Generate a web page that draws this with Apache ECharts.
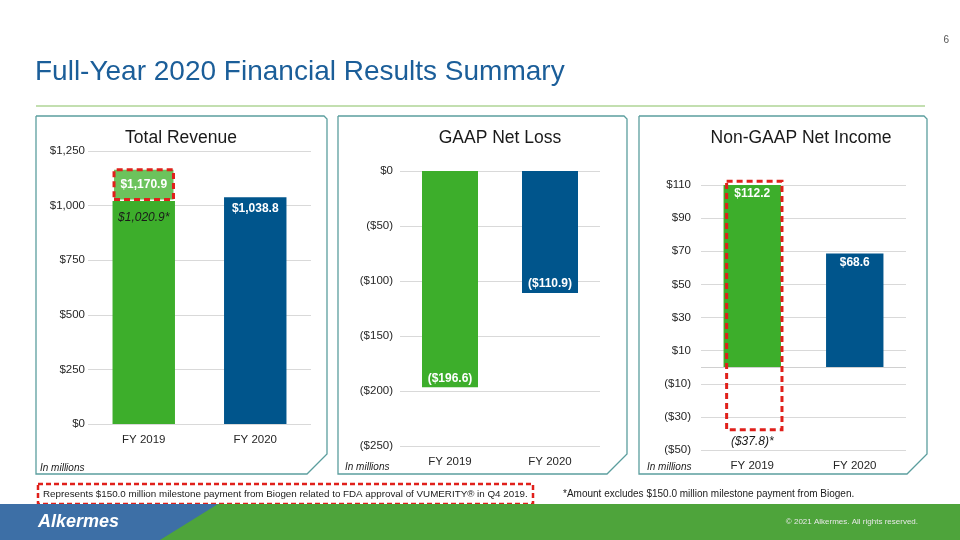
<!DOCTYPE html>
<html>
<head>
<meta charset="utf-8">
<script src="https://cdn.jsdelivr.net/npm/echarts@6/dist/echarts.min.js"></script>
<style>
html,body{margin:0;padding:0;background:#fff;}
#chart{width:960px;height:540px;}
</style>
</head>
<body>
<div id="chart"></div>
<script>
// ---- data ----
const categories = ['FY 2019', 'FY 2020'];
const revenueBase = [1020.9, 1038.8];        // FY2019 excl. milestone, FY2020 reported
const revenueMilestone = [150.0, null];      // Biogen milestone (FY2019)
const revenueReported = [1170.9, 1038.8];
const gaapNetLoss = [-196.6, -110.9];
const nonGaapNetIncome = [112.2, 68.6];
const nonGaapExMilestone = [-37.8, null];

const GREEN = '#3dae2b', LIGHT = '#6cc35c', BLUE = '#00558c', RED = '#e0201b';
const FONT = '"Liberation Sans", Arial, sans-serif';

function money(v) {
  const a = Math.abs(v);
  const s = a.toFixed(a % 1 === 0 ? 0 : 1).replace(/\B(?=(\d{3})+(?!\d))/g, ',');
  return v < 0 ? '($' + s + ')' : '$' + s;
}

const chart = echarts.init(document.getElementById('chart'), null, {renderer: 'canvas'});

const axisLabelY = (m) => ({fontFamily: FONT, fontSize: 11.5, color: '#262626', margin: m, formatter: money});
const splitLine = {show: true, lineStyle: {color: '#d9d9d9', width: 1}};
const valLabel = {show: true, color: '#fff', fontWeight: 'bold', fontFamily: FONT, fontSize: 12};

function panel(x0, x1) {
  const y0 = 116, y1 = 474, c = 20;
  return {
    type: 'polyline', silent: true,
    shape: {points: [[x0, y0], [x1 - 3, y0], [x1, y0 + 3], [x1, y1 - c], [x1 - c, y1], [x0, y1], [x0, y0]]},
    style: {stroke: '#5b9e9e', lineWidth: 1.3, fill: null}
  };
}
function txt(x, y, text, opt) {
  return Object.assign({type: 'text', x: x, y: y, silent: true,
    style: Object.assign({text: text, fontFamily: FONT, fill: '#1a1a1a', fontSize: 12, verticalAlign: 'middle'}, opt || {})});
}

const option = {
  animation: false,
  backgroundColor: '#fff',
  grid: [
    {left: 88, top: 151, width: 223, height: 273},
    {left: 400, top: 171, width: 200, height: 275},
    {left: 701, top: 185, width: 205, height: 265}
  ],
  xAxis: [0, 1, 2].map(i => ({
    type: 'category', gridIndex: i, data: categories,
    axisLine: {show: false}, axisTick: {show: false},
    axisLabel: {fontFamily: FONT, fontSize: 11.5, color: '#262626', margin: 10}
  })),
  yAxis: [
    {type: 'value', gridIndex: 0, min: 0, max: 1250, interval: 250, axisLabel: axisLabelY(3), splitLine: splitLine, axisLine: {show: false}, axisTick: {show: false}},
    {type: 'value', gridIndex: 1, min: -250, max: 0, interval: 50, axisLabel: axisLabelY(7), splitLine: splitLine, axisLine: {show: false}, axisTick: {show: false}},
    {type: 'value', gridIndex: 2, min: -50, max: 110, interval: 20, axisLabel: axisLabelY(10), splitLine: splitLine, axisLine: {show: false}, axisTick: {show: false}}
  ],
  series: [
    {
      type: 'bar', xAxisIndex: 0, yAxisIndex: 0, stack: 'rev', barWidth: '56%',
      data: revenueBase.map((v, i) => i === 0 ? {
        value: v, itemStyle: {color: GREEN},
        label: {show: true, position: 'insideTop', distance: 11, color: '#1a1a1a', fontStyle: 'italic', fontFamily: FONT, fontSize: 12, formatter: () => money(v) + '*'}
      } : {
        value: v, itemStyle: {color: BLUE},
        label: Object.assign({}, valLabel, {position: 'insideTop', distance: 6, formatter: () => money(revenueReported[i])})
      })
    },
    {
      type: 'bar', xAxisIndex: 0, yAxisIndex: 0, stack: 'rev', barWidth: '56%', z: 3,
      data: revenueMilestone.map((v, i) => v == null ? '-' : {
        value: v,
        itemStyle: {color: LIGHT, borderColor: RED, borderWidth: 3, borderType: [6, 4]},
        label: Object.assign({}, valLabel, {position: 'inside', formatter: () => money(revenueReported[i])})
      })
    },
    {
      type: 'bar', xAxisIndex: 1, yAxisIndex: 1, barWidth: '56%',
      data: gaapNetLoss.map((v, i) => ({value: v, itemStyle: {color: i === 0 ? GREEN : BLUE}})),
      label: Object.assign({}, valLabel, {position: 'insideBottom', distance: 3, formatter: p => money(p.value)})
    },
    {
      type: 'bar', xAxisIndex: 2, yAxisIndex: 2, barWidth: '56%',
      data: nonGaapNetIncome.map((v, i) => ({value: v, itemStyle: {color: i === 0 ? GREEN : BLUE}})),
      label: Object.assign({}, valLabel, {position: 'insideTop', distance: 3, formatter: p => money(p.value)}),
      markLine: {silent: true, symbol: 'none', label: {show: false}, lineStyle: {color: '#d0d0d0', type: 'solid', width: 1}, data: [{yAxis: 0}]}
    },
    {
      type: 'custom', xAxisIndex: 2, yAxisIndex: 2, z: 5,
      data: nonGaapExMilestone.map((v, i) => v == null ? null : [i, nonGaapNetIncome[i], v]).filter(d => d),
      renderItem: function (params, api) {
        const top = api.coord([api.value(0), api.value(1)]);
        const bot = api.coord([api.value(0), api.value(2)]);
        const bw = api.size([1, 0])[0];
        const x0 = top[0] - bw * 0.25, x1 = top[0] + bw * 0.29;
        return {
          type: 'group',
          children: [
            {type: 'rect', shape: {x: x0, y: top[1], width: x1 - x0, height: bot[1] - top[1]},
             style: {fill: null, stroke: RED, lineWidth: 3, lineDash: [6, 4]}},
            {type: 'text', x: top[0], y: bot[1] + 12,
             style: {text: money(api.value(2)) + '*', fontFamily: FONT, fontSize: 12, fontStyle: 'italic', fill: '#1a1a1a', align: 'center', verticalAlign: 'middle'}}
          ]
        };
      }
    }
  ],
  graphic: [
    txt(949, 40, '6', {fontSize: 10, fill: '#555', align: 'right'}),
    txt(35, 72, 'Full-Year 2020 Financial Results Summary', {fontSize: 28, fill: '#1b5e99'}),
    {type: 'line', silent: true, shape: {x1: 36, y1: 106, x2: 925, y2: 106}, style: {stroke: '#c3dfb0', lineWidth: 2}},
    panel(36, 327), panel(338, 627), panel(639, 927),
    txt(181, 138, 'Total Revenue', {fontSize: 17.5, align: 'center'}),
    txt(500, 138, 'GAAP Net Loss', {fontSize: 17.5, align: 'center'}),
    txt(801, 138, 'Non-GAAP Net Income', {fontSize: 17.5, align: 'center'}),
    txt(40, 468, 'In millions', {fontSize: 10, fontStyle: 'italic'}),
    txt(345, 467, 'In millions', {fontSize: 10, fontStyle: 'italic'}),
    txt(647, 467, 'In millions', {fontSize: 10, fontStyle: 'italic'}),
    {type: 'rect', silent: true, shape: {x: 38, y: 484, width: 495, height: 20}, style: {fill: null, stroke: RED, lineWidth: 2.5, lineDash: [5, 3]}},
    txt(43, 494, 'Represents $150.0 million milestone payment from Biogen related to FDA approval of VUMERITY® in Q4 2019.', {fontSize: 9.8}),
    txt(563, 494, '*Amount excludes $150.0 million milestone payment from Biogen.', {fontSize: 10}),
    {type: 'polygon', silent: true, shape: {points: [[0, 504], [960, 504], [960, 540], [0, 540]]}, style: {fill: '#4ea43b'}},
    {type: 'polygon', silent: true, shape: {points: [[0, 504], [218, 504], [160, 540], [0, 540]]}, style: {fill: '#3d6fa6'}},
    txt(38, 522, 'Alkermes', {fontSize: 18, fontStyle: 'italic', fontWeight: 'bold', fill: '#fff'}),
    txt(918, 522, '© 2021 Alkermes. All rights reserved.', {fontSize: 8, fill: '#e8e8e8', align: 'right'})
  ]
};
chart.setOption(option);
</script>
</body>
</html>
